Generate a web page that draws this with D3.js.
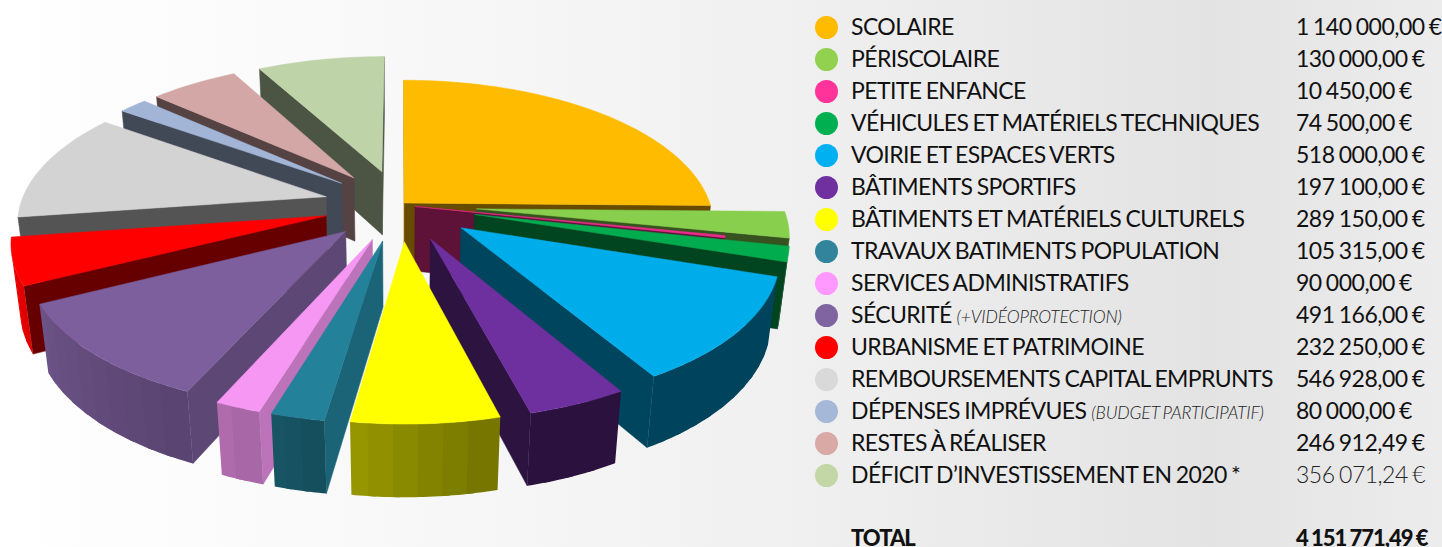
<!DOCTYPE html>
<html><head><meta charset="utf-8">
<script src="https://cdn.jsdelivr.net/npm/d3@7"></script>
<style>html,body{margin:0;padding:0;background:#fff;overflow:hidden}svg{display:block}</style>
</head><body><svg id="c" width="1442" height="547"></svg>
<script>
const categories = ["SCOLAIRE","PÉRISCOLAIRE","PETITE ENFANCE","VÉHICULES ET MATÉRIELS TECHNIQUES","VOIRIE ET ESPACES VERTS","BÂTIMENTS SPORTIFS","BÂTIMENTS ET MATÉRIELS CULTURELS","TRAVAUX BATIMENTS POPULATION","SERVICES ADMINISTRATIFS","SÉCURITÉ","URBANISME ET PATRIMOINE","REMBOURSEMENTS CAPITAL EMPRUNTS","DÉPENSES IMPRÉVUES","RESTES À RÉALISER","DÉFICIT D’INVESTISSEMENT EN 2020 *"];
const notes = ["","","","","","","","","","(+VIDÉOPROTECTION)","","","(BUDGET PARTICIPATIF)","",""];
const amounts = [1140000,130000,10450,74500,518000,197100,289150,105315,90000,491166,232250,546928,80000,246912.49,356071.24];
const colors = ["#FFBB00","#88CF4E","#EC2C8D","#00AC4E","#00ADEB","#6E2F9F","#FFFF00","#23819A","#F797F4","#7C5F9C","#FF0000","#D3D3D3","#A3B5D6","#D4A7A7","#BED3A8"];
const legendColors = ["#FFBB00","#92D050","#FF3399","#00B050","#00B0F0","#7030A0","#FFFF00","#31849B","#FF99FF","#8064A2","#FF0000","#D9D9D9","#A6B8D8","#D9A9A6","#C3D6A5"];
const explosion = [0.02,0.25,0.05,0.25,0.25,0.25,0.25,0.25,0.25,0.25,0.25,0.25,0.25,0.25,0.25];
const totalLabel = "TOTAL";
const totalAmount = 4151771.49;

const svg = d3.select("#c");
const defs = svg.append("defs");
const grad = defs.append("linearGradient").attr("id","bg");
[[0,"#ffffff"],[.28,"#f8f8f8"],[.55,"#f0f0f0"],[.84,"#e3e3e3"],[1,"#ececec"]].forEach(s=>grad.append("stop").attr("offset",s[0]).attr("stop-color",s[1]));
svg.append("rect").attr("width",1442).attr("height",547).attr("fill","url(#bg)");

/* projection of the exploded 3-D pie */
const CX=400, CY=205, A=306, B=142, H=66, U=0.152, W=0.023;
function project(X,Y,Z){
  const s=1/(1+U*Y-W*Z);
  return [CX+A*X*s, CY-(B*Y+H*Z)*s];
}
const pie = d3.pie().sort(null).value(d=>d)(amounts);
const TAU=2*Math.PI;
const wallLight = d3.scaleLinear().domain([0,164,165,188,204,243,262,360]).range([.39,.39,.45,.6,.72,.87,1,1]).clamp(true);
const cutLight  = d3.scaleLinear().domain([0,95,115,150,360]).range([.78,.78,.75,.4,.4]).clamp(true);
const shade=(c,f)=>{const r=d3.rgb(c);return d3.rgb(r.r*f,r.g*f,r.b*f).formatHex();};
const line=d3.line().curve(d3.curveLinearClosed);
const deg=a=>a*360/TAU;

const slices = pie.map((p,i)=>{
  const mid=(p.startAngle+p.endAngle)/2, e=explosion[i];
  return {i,a0:p.startAngle,a1:p.endAngle,mid,ox:e*Math.sin(mid),oy:e*Math.cos(mid),color:colors[i]};
}).sort((a,b)=>Math.cos(b.mid)-Math.cos(a.mid));

const g=svg.append("g");
function face(pts,fill,stroke){
  g.append("path").attr("d",line(pts)).attr("fill",fill).attr("stroke",stroke?fill:"none").attr("stroke-width",.5).attr("stroke-linejoin","round");
}
slices.forEach(s=>{
  const pt=(a,z)=>project(s.ox+Math.sin(a),s.oy+Math.cos(a),z);
  const apex=z=>project(s.ox,s.oy,z);
  const startFace=[apex(0),pt(s.a0,0),pt(s.a0,-1),apex(-1)];
  const endFace=[pt(s.a1,0),apex(0),apex(-1),pt(s.a1,-1)];
  if(d3.polygonArea(startFace)>0) face(startFace,shade(s.color,cutLight(deg(s.a0)-90)),true);
  if(d3.polygonArea(endFace)>0) face(endFace,shade(s.color,cutLight(deg(s.a1)+90)),true);
  const n=Math.max(1,Math.ceil(deg(s.a1-s.a0)/4));
  const arc=d3.range(n+1).map(k=>s.a0+(s.a1-s.a0)*k/n);
  const fine=a=>{
    const m=6, t=d3.range(m+1).map(j=>a[0]+(a[1]-a[0])*j/m);
    return [...t.map(v=>pt(v,0)),...t.slice().reverse().map(v=>pt(v,-1))];
  };
  for(let k=n-1;k>=0;k--){
    const lo=arc[k], hi=arc[k+1];
    const q=[pt(lo,0),pt(hi,0),pt(hi,-1),pt(lo,-1)];
    if(d3.polygonArea(q)>0){
      face(fine([lo,Math.min(s.a1,hi+(hi-lo)*.3)]),shade(s.color,wallLight(deg((lo+hi)/2))),false);
    }
  }
  const topArc=d3.range(0,Math.max(3,Math.ceil(deg(s.a1-s.a0)))+1).map((k,_,r)=>s.a0+(s.a1-s.a0)*k/(r.length-1));
  face([apex(0),...topArc.map(a=>pt(a,0))],s.color,true);
});

/* legend */
const fr=d3.formatLocale({decimal:",",thousands:" ",grouping:[3],currency:["","\u00a0€"]});
const money=v=>fr.format(",.2f")(v)+" €";
const rowY=d3.scaleLinear().domain([0,1]).range([27.5,59.5]);
const FONT="Lato, sans-serif";
const legend=svg.append("g").attr("font-family",FONT).attr("fill","#111");
categories.forEach((c,i)=>{
  const y=rowY(i);
  legend.append("circle").attr("cx",826.5).attr("cy",y).attr("r",11.5).attr("fill",legendColors[i]);
  const t=legend.append("text").attr("x",851).attr("y",y+7.5).attr("font-size",23).attr("letter-spacing",-0.6).attr("word-spacing",-1).text(c);
  if(notes[i]) t.append("tspan").attr("dx",5).attr("font-size",17.5).attr("font-style","italic").attr("font-weight",300).attr("fill","#222").attr("letter-spacing",-0.15).attr("word-spacing",-1).text(notes[i]);
  legend.append("text").attr("x",1296).attr("y",y+7.5).attr("font-size",23).attr("letter-spacing",-0.5).attr("word-spacing",-1.2)
    .attr("font-weight",i===14?300:400).attr("fill",i===14?"#222":"#111").text(money(amounts[i]));
});
const yT=545.5;
legend.append("text").attr("x",851).attr("y",yT).attr("font-size",22).attr("font-weight",900).attr("letter-spacing",-1).text(totalLabel);
legend.append("text").attr("x",1296).attr("y",yT).attr("font-size",22).attr("font-weight",900).attr("letter-spacing",-1).attr("word-spacing",-1).text(money(totalAmount));
</script></body></html>
